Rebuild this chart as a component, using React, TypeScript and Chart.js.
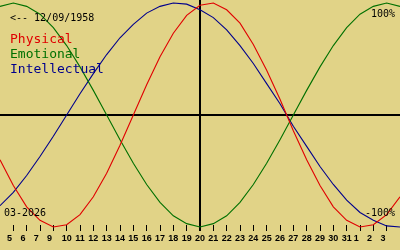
import React, { useEffect, useRef } from 'react';
import { Chart, registerables } from 'chart.js';

Chart.register(...registerables);

// Day tick labels shown under tick positions 1..29 (as printed in the reference)
const TICK_LABELS = ['5', '6', '7', '9', '10', '11', '12', '13', '14', '15', '16', '17', '18', '19', '20', '21', '22', '23', '24', '25', '26', '27', '28', '29', '30', '31', '1', '2', '3'];
const TICK_POSITIONS = TICK_LABELS.map((_, i) => i + 1);
const TODAY_POS = 15;

// Sample positions (one per day across the strip) and series values in percent
const DAY_INDEX = [0, 1, 2, 3, 4, 5, 6, 7, 8, 9, 10, 11, 12, 13, 14, 15, 16, 17, 18, 19, 20, 21, 22, 23, 24, 25, 26, 27, 28, 29, 30];
const PHYSICAL = [-40, -63, -82, -94, -100, -98, -89, -73, -52, -27, 0, 27, 52, 73, 89, 98, 100, 94, 82, 63, 40, 14, -14, -40, -63, -82, -94, -100, -98, -89, -73];
const EMOTIONAL = [97, 100, 97, 90, 78, 62, 43, 22, 0, -22, -43, -62, -78, -90, -97, -100, -97, -90, -78, -62, -43, -22, 0, 22, 43, 62, 78, 90, 97, 100, 97];
const INTELLECTUAL = [-81, -69, -54, -37, -19, 0, 19, 37, 54, 69, 81, 91, 97, 100, 99, 94, 87, 76, 62, 46, 28, 10, -10, -28, -46, -62, -76, -87, -94, -99, -100];

const SERIES_NAMES = ['Physical', 'Emotional', 'Intellectual'];
const SERIES_COLORS = ['#e00000', '#007000', '#00008c'];
const BIRTH_TEXT = '<-- 12/09/1958';
const MONTH_TEXT = '03-2026';
const TOP_TEXT = '100%';
const BOTTOM_TEXT = '-100%';

const BG = '#e1d387';
const INK = '#000000';

const bgPlugin = {
  id: 'bgFill',
  beforeDraw(chart: any) {
    const ctx = chart.ctx;
    ctx.save();
    ctx.fillStyle = BG;
    ctx.fillRect(0, 0, chart.width, chart.height);
    ctx.restore();
  },
};

const textPlugin = {
  id: 'texts',
  afterDraw(chart: any) {
    const ctx = chart.ctx;
    ctx.save();
    ctx.textBaseline = 'alphabetic';
    ctx.fillStyle = INK;
    ctx.font = '10px "DejaVu Sans Mono"';
    ctx.textAlign = 'left';
    ctx.fillText(BIRTH_TEXT, 10, 21);
    ctx.fillText(MONTH_TEXT, 4, 216);
    ctx.textAlign = 'right';
    ctx.fillText(TOP_TEXT, 395, 17);
    ctx.fillText(BOTTOM_TEXT, 395, 216);
    ctx.font = '13px "DejaVu Sans Mono"';
    ctx.textAlign = 'left';
    SERIES_NAMES.forEach((name, i) => {
      ctx.fillStyle = SERIES_COLORS[i];
      ctx.fillText(name, 10, 43 + 15 * i);
    });
    ctx.restore();
  },
};

export default function App() {
  const ref = useRef<HTMLCanvasElement | null>(null);

  useEffect(() => {
    if (!ref.current) return;
    const series = [PHYSICAL, EMOTIONAL, INTELLECTUAL];
    const chart = new Chart(ref.current, {
      type: 'line',
      data: {
        datasets: series.map((vals, i) => ({
          label: SERIES_NAMES[i],
          data: vals.map((v, j) => ({ x: DAY_INDEX[j], y: v })),
          borderColor: SERIES_COLORS[i],
          backgroundColor: SERIES_COLORS[i],
          borderWidth: 1.1,
          pointRadius: 0,
          tension: 0,
          fill: false,
          clip: false as any,
        })),
      },
      options: {
        responsive: false,
        devicePixelRatio: 1,
        animation: false,
        layout: { padding: { left: 0, right: 0, top: 0, bottom: 4.2 } },
        plugins: { legend: { display: false }, tooltip: { enabled: false }, title: { display: false } },
        scales: {
          x: {
            type: 'linear',
            min: 0,
            max: 30,
            position: 'bottom',
            border: { display: false },
            grid: {
              drawOnChartArea: true,
              drawTicks: true,
              tickLength: 6,
              color: (c: any) => (c.tick && c.tick.value === TODAY_POS ? INK : 'rgba(0,0,0,0)'),
              lineWidth: (c: any) => (c.tick && c.tick.value === TODAY_POS ? 2 : 1),
              tickWidth: (c: any) => (c.tick && c.tick.value === TODAY_POS ? 2 : 1),
              tickColor: INK,
            } as any,
            afterBuildTicks: (scale: any) => {
              scale.ticks = TICK_POSITIONS.map((v) => ({ value: v }));
            },
            afterFit: (scale: any) => {
              scale.paddingLeft = 0;
              scale.paddingRight = 0;
            },
            ticks: {
              autoSkip: false,
              maxRotation: 0,
              minRotation: 0,
              padding: 2,
              color: INK,
              font: { family: '"Liberation Sans"', weight: 'bold', size: 9 },
              callback: (value: any) => {
                const lab = TICK_LABELS[TICK_POSITIONS.indexOf(Number(value))] ?? '';
                return lab.length === 1 ? lab + '   ' : lab;
              },
            },
          },
          y: {
            type: 'linear',
            min: -98.2,
            max: 102.7,
            position: 'left',
            border: { display: false },
            grid: {
              drawTicks: false,
              color: (c: any) => (c.tick && c.tick.value === 0 ? INK : 'rgba(0,0,0,0)'),
              lineWidth: 2,
            },
            ticks: { display: false },
            afterBuildTicks: (scale: any) => {
              scale.ticks = [{ value: 0 }];
            },
            afterFit: (scale: any) => {
              scale.width = 0;
            },
          },
        },
      },
      plugins: [bgPlugin, textPlugin],
    } as any);
    return () => chart.destroy();
  }, []);

  return (
    <div style={{ position: 'fixed', left: 0, top: 0, width: 400, height: 250, background: BG }}>
      <canvas ref={ref} width={400} height={250} style={{ display: 'block' }} />
    </div>
  );
}
